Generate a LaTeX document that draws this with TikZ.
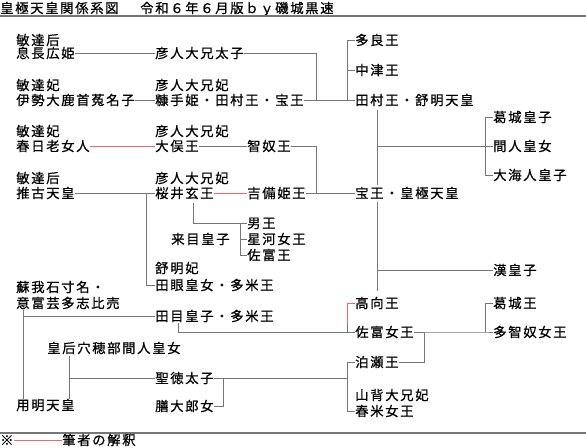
\documentclass[tikz,border=0pt]{standalone}
\usepackage{fontspec}
\newfontfamily\jp[LetterSpace=12.5,FakeBold=0.8]{Noto Sans CJK JP}
\definecolor{lgrey}{HTML}{767676}
\definecolor{lred}{HTML}{FF6464}
\begin{document}
\begin{tikzpicture}[x=0.75pt,y=-0.75pt,
  t/.style={anchor=west,inner sep=0pt,font=\jp\fontsize{10}{12}\selectfont,text height=8.8pt,text depth=1.2pt},
  ln/.style={draw=lgrey,line width=0.75pt},
  rd/.style={draw=lred,line width=0.75pt},
  rule/.style={draw=lgrey,line width=1pt}]
\useasboundingbox (0,0) rectangle (586,447);
% title and rules
\node[t] (ti1) at (0,8) {皇極天皇関係系図};
\node[t] (ti2) at (140,8) {令和６年６月版ｂｙ磯城黒速};
\coordinate (rl1) at (0,16); \coordinate (rr1) at (586,16);
\coordinate (rl2) at (0,433); \coordinate (rr2) at (586,433);
\draw[rule] (rl1) -- (rr1);
\draw[rule] (rl2) -- (rr2);
% left column
\node[t] (a1) at (16,40) {敏達后};
\node[t] (a2) at (16,53) {息長広姫};
\node[t] (b1) at (16,85) {敏達妃};
\node[t] (b2) at (16,100) {伊勢大鹿首菟名子};
\node[t] (c1) at (16,131) {敏達妃};
\node[t] (c2) at (16,146) {春日老女人};
\node[t] (d1) at (16,178) {敏達后};
\node[t] (d2) at (16,193) {推古天皇};
\node[t] (e1) at (16,287) {蘇我石寸名・};
\node[t] (e2) at (16,303) {意富芸多志比売};
\node[t] (f) at (47,348) {皇后穴穂部間人皇女};
\node[t] (g) at (16,405) {用明天皇};
% second column
\node[t] (h) at (155,53) {彦人大兄太子};
\node[t] (i1) at (155,85) {彦人大兄妃};
\node[t] (i2) at (155,100) {糠手姫・田村王・宝王};
\node[t] (j1) at (155,131) {彦人大兄妃};
\node[t] (j2) at (155,146) {大俣王};
\node[t] (k1) at (155,178) {彦人大兄妃};
\node[t] (k2) at (155,193) {桜井玄王};
\node[t] (kume) at (171,239) {来目皇子};
\node[t] (l1) at (155,268) {舒明妃};
\node[t] (l2) at (155,285) {田眼皇女・多米王};
\node[t] (m) at (155,316) {田目皇子・多米王};
\node[t] (n) at (155,378) {聖徳太子};
\node[t] (o) at (155,406) {膳大郎女};
% third column
\node[t] (p) at (247,146) {智奴王};
\node[t] (q) at (247,193) {吉備姫王};
\node[t] (r1) at (247,223) {男王};
\node[t] (r2) at (247,239) {星河女王};
\node[t] (r3) at (247,255) {佐富王};
% fourth column
\node[t] (s1) at (355,40) {多良王};
\node[t] (s2) at (355,70) {中津王};
\node[t] (s3) at (355,100) {田村王・舒明天皇};
\node[t] (s4) at (355,193) {宝王・皇極天皇};
\node[t] (s5) at (355,303) {高向王};
\node[t] (s6) at (355,332) {佐富女王};
\node[t] (s7) at (355,362) {泊瀬王};
\node[t] (s8a) at (355,395) {山背大兄妃};
\node[t] (s8b) at (355,411) {春米女王};
% fifth column
\node[t] (u1) at (493,117) {葛城皇子};
\node[t] (u2) at (493,146) {間人皇女};
\node[t] (u3) at (493,175) {大海人皇子};
\node[t] (u4) at (493,270) {漢皇子};
\node[t] (u5) at (493,303) {葛城王};
\node[t] (u6) at (493,332) {多智奴女王};
% footnote
\node[t] (fn1) at (0,440) {※};
\node[t] (fn2) at (62,440) {筆者の解釈};
\draw[rd] (fn1.east) -- (fn2.west);
% junction coordinates
\coordinate (J1) at (316,100);
\coordinate (J2) at (347,40);
\coordinate (J3) at (347,100);
\coordinate (J4) at (347,70);
\coordinate (J5) at (316,146);
\coordinate (J6) at (316,193);
\coordinate (J7) at (146,193);
\coordinate (J8) at (146,285);
\coordinate (J9a) at (193,203);
\coordinate (J9) at (193,223);
\coordinate (J10) at (240,223);
\coordinate (J11) at (240,239);
\coordinate (J12) at (240,255);
\coordinate (V1) at (377,110);
\coordinate (V2) at (377,185);
\coordinate (V3) at (377,202);
\coordinate (V4) at (377,291);
\coordinate (H1) at (377,146);
\coordinate (H2) at (377,270);
\coordinate (K1) at (485,117);
\coordinate (K2) at (485,146);
\coordinate (K3) at (485,175);
\coordinate (R1) at (347,303);
\coordinate (R2) at (347,324);
\coordinate (R3) at (347,332);
\coordinate (M1) at (178,323);
\coordinate (M2) at (178,332);
\coordinate (E1) at (23,310);
\coordinate (E2) at (23,316);
\coordinate (E3) at (23,399);
\coordinate (F1) at (69,356);
\coordinate (F2) at (69,378);
\coordinate (F3) at (69,399);
\coordinate (N1) at (223,378);
\coordinate (N2) at (223,406);
\coordinate (N3) at (347,378);
\coordinate (N4) at (347,362);
\coordinate (N5) at (347,411);
\coordinate (P1) at (424,332);
\coordinate (P2) at (424,362);
\coordinate (P3) at (485,303);
\coordinate (P4) at (485,332);
% connectors
\draw[ln] (a2.east) -- (h.west);
\draw[ln] (h.east) -| (J1);
\draw[ln] (b2.east) -- (i2.west);
\draw[ln] (i2.east) -- (s3.west);
\draw[ln] (s1.west) -- (J2) -- (J3);
\draw[ln] (J4) -- (s2.west);
\draw[rd] (c2.east) -- (j2.west);
\draw[ln] (j2.east) -- (p.west);
\draw[ln] (p.east) -- (J5) -- (J6);
\draw[ln] (q.east) -- (s4.west);
\draw[ln] (d2.east) -- (k2.west);
\draw[ln] (J7) -- (J8) -- (l2.west);
\draw[rd] (k2.east) -- (q.west);
\draw[ln] (J9a) -- (J9) -- (r1.west);
\draw[ln] (J10) -- (J12) -- (r3.west);
\draw[ln] (J11) -- (r2.west);
\draw[ln] (V1) -- (V2);
\draw[ln] (V3) -- (V4);
\draw[ln] (H1) -- (u2.west);
\draw[ln] (H2) -- (u4.west);
\draw[ln] (u1.west) -- (K1) -- (K3) -- (u3.west);
\draw[rd] (s5.west) -- (R1) -- (R2);
\draw[ln] (R2) -- (R3);
\draw[ln] (M1) -- (M2) -- (s6.west);
\draw[ln] (E1) -- (E3);
\draw[ln] (E2) -- (m.west);
\draw[ln] (F1) -- (F3);
\draw[ln] (F2) -- (n.west);
\draw[ln] (n.east) -- (N1) -- (N2) -- (o.east);
\draw[ln] (N1) -- (N3);
\draw[ln] (s7.west) -- (N4) -- (N5) -- (s8b.west);
\draw[ln] (s6.east) -- (P1) -- (P2) -- (s7.east);
\draw[ln] (P1) -- (P4) -- (u6.west);
\draw[ln] (u5.west) -- (P3) -- (P4);
\end{tikzpicture}
\end{document}
